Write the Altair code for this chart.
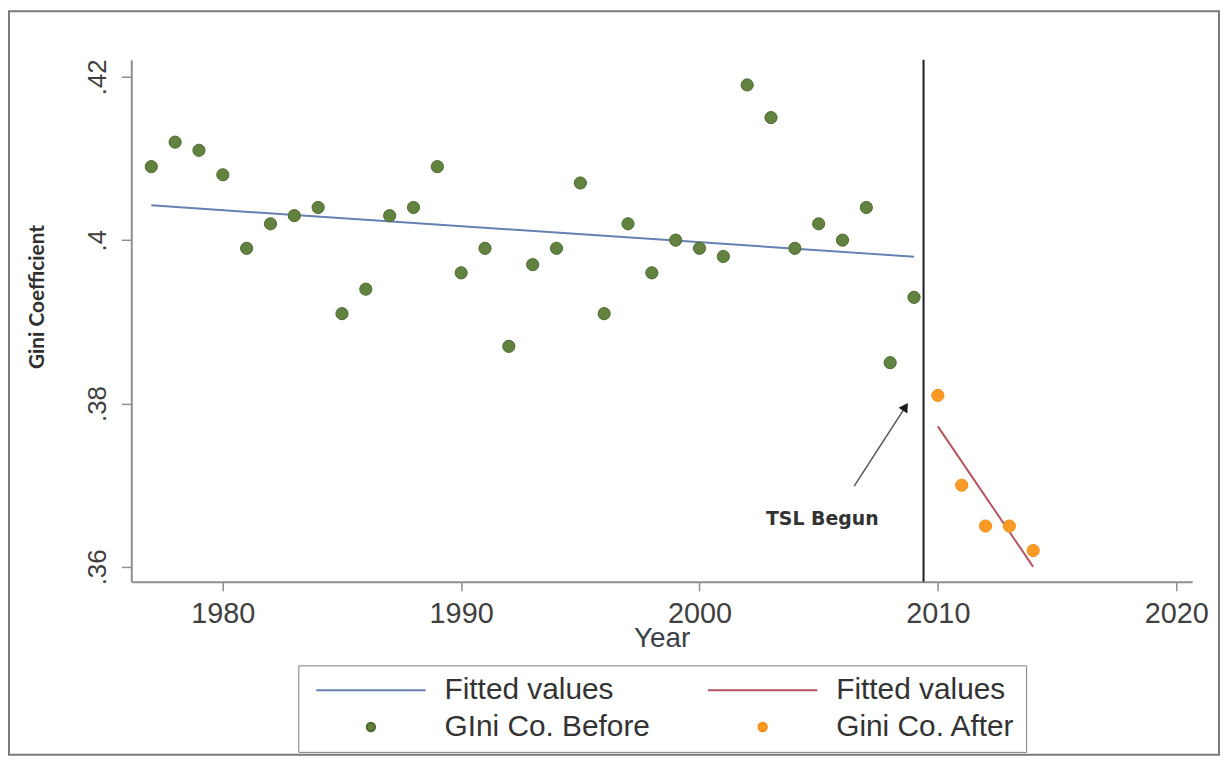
import altair as alt
import pandas as pd

# ---- data ----
years_before = list(range(1977, 2010))
gini_before = [0.409, 0.412, 0.411, 0.408, 0.399, 0.402, 0.403, 0.404, 0.391, 0.394,
               0.403, 0.404, 0.409, 0.396, 0.399, 0.387, 0.397, 0.399, 0.407, 0.391,
               0.402, 0.396, 0.400, 0.399, 0.398, 0.419, 0.415, 0.399, 0.402, 0.400,
               0.404, 0.385, 0.393]
years_after = [2010, 2011, 2012, 2013, 2014]
gini_after = [0.381, 0.370, 0.365, 0.365, 0.362]

x_ticks = [1980, 1990, 2000, 2010, 2020]
y_ticks = [0.36, 0.38, 0.40, 0.42]

tsl_year = [2009.4]
annot_text = ["TSL Begun"]
annot_year = [2005.15]
annot_gini = [0.3658]
arrow_from_year = [2006.49]
arrow_from_gini = [0.3699]
arrow_to_year = [2008.64]
arrow_to_gini = [0.3796]

# legend entries, listed column by column
legend_keys = ["Fitted values", "GIni Co. Before", "Fitted values ", "Gini Co. After"]

# ---- styles ----
BLUE = "#6580b2"
RED = "#b5535f"
GREEN = "#62823f"
GREEN_D = "#4d6a2e"
ORANGE = "#fb9b27"
ORANGE_D = "#f58d15"
AXIS_GRAY = "#8f8f8f"
TEXT_GRAY = "#404040"

W, H = 1067, 525

df_before = pd.DataFrame({"year": years_before, "gini": gini_before})
df_after = pd.DataFrame({"year": years_after, "gini": gini_after})
df_tsl = pd.DataFrame({"year": tsl_year})
df_text = pd.DataFrame({"year": annot_year, "gini": annot_gini, "label": annot_text})
df_arrow = pd.DataFrame({"year": arrow_from_year, "gini": arrow_from_gini,
                         "year2": arrow_to_year, "gini2": arrow_to_gini})
df_head = pd.DataFrame({"year": arrow_to_year, "gini": arrow_to_gini})
df_legend = pd.DataFrame({"series": legend_keys})

xscale = alt.Scale(domain=[1976.16, 2020.67], nice=False, zero=False)
yscale = alt.Scale(domain=[0.35817, 0.42207], nice=False, zero=False)

xaxis = alt.Axis(values=x_ticks, format="d", grid=False,
                 domainColor=AXIS_GRAY, domainWidth=2, tickColor=AXIS_GRAY, tickWidth=1.5,
                 tickSize=9, labelPadding=9, labelFont="Liberation Sans", labelFontSize=29,
                 labelColor=TEXT_GRAY, labelFlush=False,
                 titleFont="Liberation Sans", titleFontSize=28, titleFontWeight="normal",
                 titleColor="#3a4048", titleY=65, titleBaseline="alphabetic")
yaxis = alt.Axis(values=y_ticks, labelExpr="substring(format(datum.value, '.2~f'), 1)",
                 grid=False, domainColor=AXIS_GRAY, domainWidth=2, tickColor=AXIS_GRAY,
                 tickWidth=1.5, tickSize=10, labelPadding=24, labelAngle=270,
                 labelAlign="center", labelBaseline="middle", labelFont="Liberation Sans",
                 labelFontSize=26, labelColor=TEXT_GRAY, labelFlush=False,
                 titleFont="Lato", titleFontSize=21, titleFontWeight="bold",
                 titleColor="#303030", titleAngle=270, titleX=-84, titleY=238,
                 titleAlign="center", titleBaseline="bottom")


def X(field="year"):
    return alt.X(field, type="quantitative", scale=xscale, axis=xaxis, title="Year")


def Y(field="gini"):
    return alt.Y(field, type="quantitative", scale=yscale, axis=yaxis, title="Gini Coefficient")


leg = alt.Legend(title=None, orient="none", legendX=168, legendY=609, columns=2,
                 columnPadding=50, rowPadding=7, clipHeight=30,
                 labelFont="Liberation Sans", labelFontSize=30, labelColor="#333333",
                 labelOffset=18, labelLimit=500, symbolStrokeWidth=2, padding=10,
                 strokeColor="#7d7d7d", fillColor="white", symbolOffset=7)

legend_layer = alt.Chart(df_legend).transform_filter("false").mark_point(
    filled=True, opacity=1).encode(
    fill=alt.Fill("series:N", scale=alt.Scale(domain=legend_keys,
                                              range=[BLUE, GREEN, RED, ORANGE]), legend=leg),
    stroke=alt.Stroke("series:N", scale=alt.Scale(domain=legend_keys,
                                                  range=[BLUE, GREEN_D, RED, ORANGE_D]), legend=leg),
    shape=alt.Shape("series:N", scale=alt.Scale(domain=legend_keys,
                                                range=["stroke", "circle", "stroke", "circle"]), legend=leg),
    size=alt.Size("series:N", scale=alt.Scale(type="ordinal", domain=legend_keys,
                                              range=[12100, 70, 12100, 70]), legend=leg),
)

frame = alt.Chart(pd.DataFrame({"k": [0]})).mark_rect(
    fill="transparent", stroke="#7a7a7a", strokeWidth=2).encode(
    x=alt.value(-123), x2=alt.value(1094), y=alt.value(-49), y2=alt.value(699))

fit_before = alt.Chart(df_before).transform_regression("year", "gini").mark_line(
    color=BLUE, strokeWidth=2).encode(x=X(), y=Y())
fit_after = alt.Chart(df_after).transform_regression("year", "gini").mark_line(
    color=RED, strokeWidth=2).encode(x=X(), y=Y())

pts_before = alt.Chart(df_before).mark_point(
    filled=True, size=150, fill=GREEN, stroke=GREEN_D, strokeWidth=1, opacity=1,
    shape="circle").encode(x=X(), y=Y())
pts_after = alt.Chart(df_after).mark_point(
    filled=True, size=150, fill=ORANGE, stroke=ORANGE_D, strokeWidth=1, opacity=1,
    shape="circle").encode(x=X(), y=Y())

tsl_rule = alt.Chart(df_tsl).mark_rule(color="#1e1e1e", strokeWidth=2).encode(x=X())

arrow_shaft = alt.Chart(df_arrow).mark_rule(color="#555555", strokeWidth=1.5).encode(
    x=X(), y=Y(), x2="year2:Q", y2="gini2:Q")
arrow_head = alt.Chart(df_head).mark_point(
    shape="triangle-up", filled=True, size=110, angle=33, color="#1a1a1a",
    opacity=1).encode(x=X(), y=Y())

annot = alt.Chart(df_text).mark_text(
    font="DejaVu Sans", fontSize=19, fontWeight="bold", color="#333333",
    align="center", baseline="middle").encode(x=X(), y=Y(), text="label:N")

chart = alt.layer(
    frame, fit_before, fit_after, pts_before, pts_after, tsl_rule,
    arrow_shaft, arrow_head, annot, legend_layer
).properties(
    width=W, height=H, padding=0, background="white"
).configure_view(stroke=None)

chart.save("out.html", embed_options={"renderer": "svg", "actions": False})
